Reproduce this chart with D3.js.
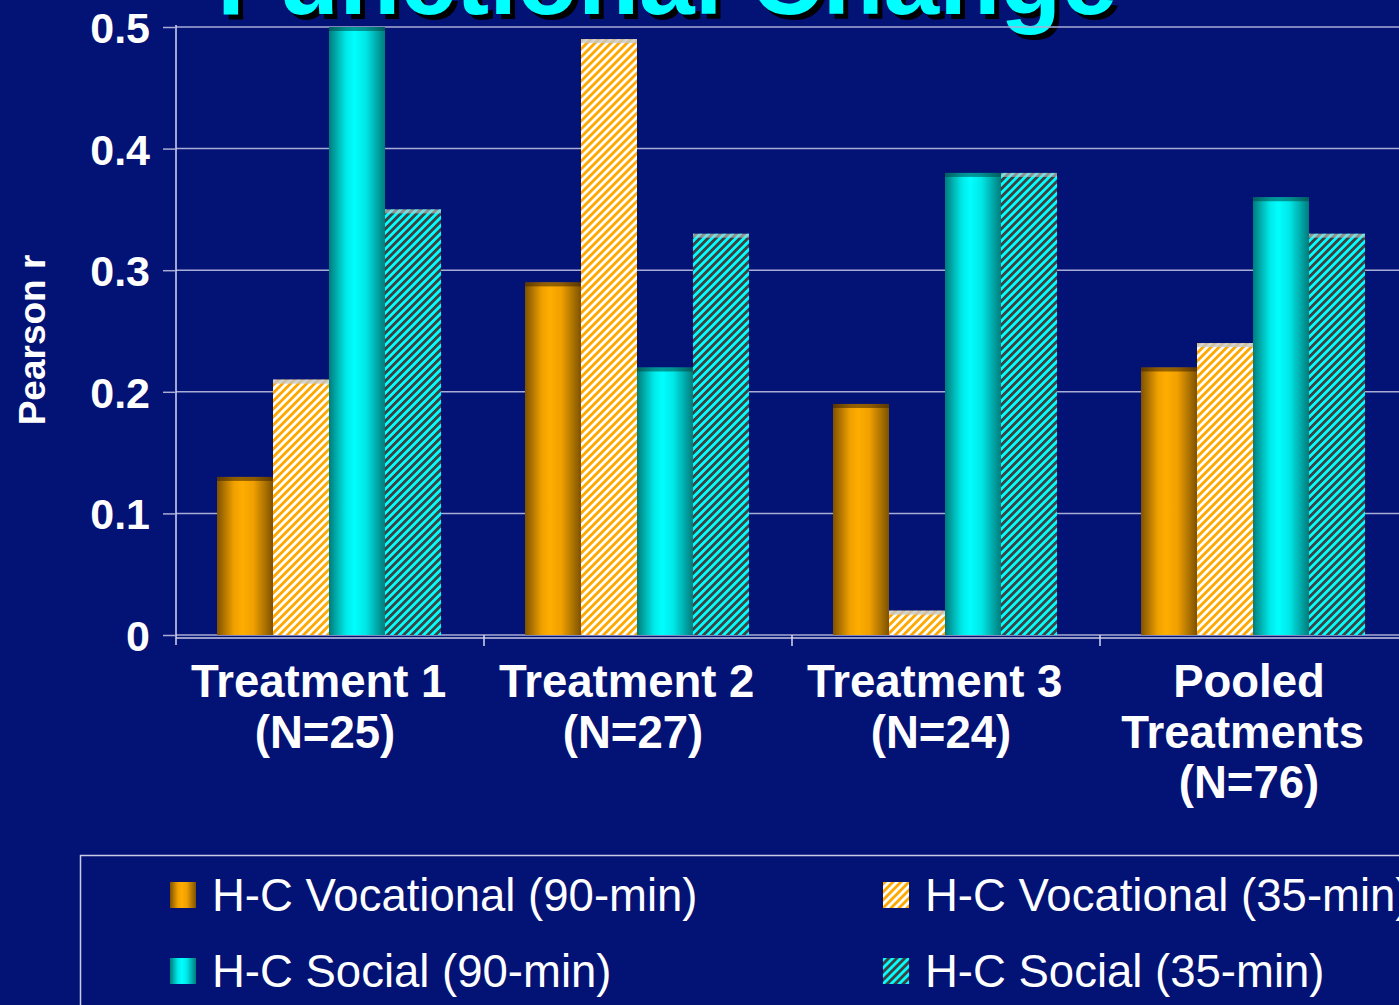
<!DOCTYPE html>
<html>
<head>
<meta charset="utf-8">
<script src="https://cdn.jsdelivr.net/npm/d3@7"></script>
<style>
  html, body { margin: 0; padding: 0; background: #031275; overflow: hidden; }
  svg { display: block; font-family: "Liberation Sans", Arial, sans-serif; }
  .cat tspan { white-space: pre; }
</style>
</head>
<body>
<svg id="chart" width="1399" height="1005"></svg>
<script>
// chart data
const categories = ["Treatment 1", "Treatment 2", "Treatment 3", "Pooled"];
const categoryLabels = [
  ["Treatment 1 ", "(N=25)"],
  ["Treatment 2 ", "(N=27)"],
  ["Treatment 3 ", "(N=24)"],
  ["Pooled", "Treatments ", "(N=76)"]
];
const seriesNames = [
  "H-C Vocational (90-min)",
  "H-C Vocational (35-min)",
  "H-C Social (90-min)",
  "H-C Social (35-min)"
];
const vocational90 = [0.13, 0.29, 0.19, 0.22];
const vocational35 = [0.21, 0.49, 0.02, 0.24];
const social90 = [0.50, 0.22, 0.38, 0.36];
const social35 = [0.35, 0.33, 0.38, 0.33];
const yTicks = [0, 0.1, 0.2, 0.3, 0.4, 0.5];

const seriesValues = [vocational90, vocational35, social90, social35];
const fills = ["url(#gradOrange)", "url(#hatchOrange)", "url(#gradCyan)", "url(#hatchCyan)"];
const topCaps = ["rgba(60,35,0,0.55)", "rgba(200,200,200,0.8)", "rgba(0,70,70,0.55)", "rgba(200,200,200,0.6)"];

const svg = d3.select("#chart");
const defs = svg.append("defs");

function cylinder(id, edge, mid, hi) {
  const g = defs.append("linearGradient").attr("id", id)
    .attr("x1", "0%").attr("x2", "100%").attr("y1", "0%").attr("y2", "0%");
  g.append("stop").attr("offset", "0%").attr("stop-color", edge);
  g.append("stop").attr("offset", "30%").attr("stop-color", mid);
  g.append("stop").attr("offset", "45%").attr("stop-color", hi);
  g.append("stop").attr("offset", "65%").attr("stop-color", mid);
  g.append("stop").attr("offset", "100%").attr("stop-color", edge);
}
cylinder("gradOrange", "#7e5200", "#f0a000", "#ffad00");
cylinder("gradCyan", "#007c7c", "#00e8e8", "#00ffff");

function hatch(id, bg, fg) {
  const p = defs.append("pattern").attr("id", id)
    .attr("patternUnits", "userSpaceOnUse")
    .attr("width", 5.66).attr("height", 5.66)
    .attr("patternTransform", "rotate(45)");
  p.append("rect").attr("width", 5.66).attr("height", 5.66).attr("fill", bg);
  p.append("rect").attr("width", 2.83).attr("height", 5.66).attr("fill", fg);
}
hatch("hatchOrange", "#ffffff", "#ffa800");
hatch("hatchCyan", "#404040", "#00ffff");

// title, cut off at the top
const title = svg.append("g");
title.append("text").attr("x", 672).attr("y", 19)
  .attr("text-anchor", "middle").attr("font-size", 100).attr("font-weight", "bold")
  .attr("fill", "#000").text("Functional Change");
title.append("text").attr("x", 667).attr("y", 14)
  .attr("text-anchor", "middle").attr("font-size", 100).attr("font-weight", "bold")
  .attr("fill", "#00ffff").text("Functional Change");

// scales
const x0 = d3.scaleBand().domain(categories).range([176, 1408]);
const x1 = d3.scaleBand().domain(d3.range(4)).range([41, 265]);
const y = d3.scaleLinear().domain([0, 0.5]).range([635, 27]);

// grid lines
svg.append("g")
  .selectAll("line").data(yTicks).join("line")
  .attr("x1", 176).attr("x2", 1399)
  .attr("y1", d => y(d)).attr("y2", d => y(d))
  .attr("stroke", "#a9add6").attr("stroke-width", 1.5);
svg.append("line").attr("x1", 176).attr("x2", 1399).attr("y1", y(0) + 3).attr("y2", y(0) + 3)
  .attr("stroke", "#c8cbe4").attr("stroke-width", 1.5);

// y axis
const yAxis = svg.append("g").attr("transform", "translate(176,0)")
  .call(d3.axisLeft(y).tickValues(yTicks).tickSize(13).tickFormat(d => d === 0 ? "0" : d3.format(".1f")(d)));
yAxis.select(".domain").attr("stroke", "#d7d9ec").attr("stroke-width", 1.5).attr("d", "M0,25V645");
yAxis.selectAll(".tick line").attr("stroke", "#a9add6").attr("stroke-width", 1.5);
yAxis.selectAll(".tick text").attr("x", -26).attr("dy", "0.36em")
  .attr("fill", "#fff").attr("font-size", 43).attr("font-weight", "bold")
  .attr("font-family", "'Liberation Sans', Arial, sans-serif");

svg.append("text")
  .attr("transform", "translate(45,340) rotate(-90)")
  .attr("text-anchor", "middle").attr("font-size", 37).attr("font-weight", "bold").attr("fill", "#fff")
  .text("Pearson r");

// category separators on the floor
svg.append("g").selectAll("line").data(categories.slice(1)).join("line")
  .attr("x1", d => x0(d)).attr("x2", d => x0(d))
  .attr("y1", y(0)).attr("y2", y(0) + 11)
  .attr("stroke", "#d7d9ec").attr("stroke-width", 1.5);

// bars
const groups = svg.append("g").selectAll("g").data(categories).join("g")
  .attr("transform", d => `translate(${x0(d)},0)`);

groups.each(function(cat, ci) {
  const g = d3.select(this);
  seriesValues.forEach((vals, si) => {
    const v = vals[ci];
    g.append("rect")
      .attr("x", x1(si)).attr("width", x1.bandwidth())
      .attr("y", y(v)).attr("height", y(0) - y(v))
      .attr("fill", fills[si]);
    g.append("rect")
      .attr("x", x1(si)).attr("width", x1.bandwidth())
      .attr("y", y(v)).attr("height", 4)
      .attr("fill", topCaps[si]);
  });
});

// category labels
const labels = svg.append("g").attr("class", "cat").selectAll("text").data(categories).join("text")
  .attr("text-anchor", "middle").attr("font-size", 45.5).attr("font-weight", "bold").attr("fill", "#fff");
labels.each(function(cat, ci) {
  const t = d3.select(this);
  categoryLabels[ci].forEach((line, li) => {
    t.append("tspan")
      .attr("x", x0(cat) + x0.bandwidth() / 2 - 5)
      .attr("y", 697 + li * 50.5)
      .text(line);
  });
});

// legend
svg.append("rect").attr("x", 80.5).attr("y", 855.5).attr("width", 1400).attr("height", 200)
  .attr("fill", "none").attr("stroke", "#c9cce6").attr("stroke-width", 1.5);

const legendPos = [[170, 882], [883, 882], [170, 958], [883, 958]];
const legend = svg.append("g").selectAll("g").data(seriesNames).join("g")
  .attr("transform", (d, i) => `translate(${legendPos[i][0]},${legendPos[i][1]})`);
legend.append("rect").attr("width", 26).attr("height", 26).attr("fill", (d, i) => fills[i]);
legend.append("text").attr("x", 42).attr("y", 29)
  .attr("font-size", 45.5).attr("fill", "#fff").text(d => d);
</script>
</body>
</html>
